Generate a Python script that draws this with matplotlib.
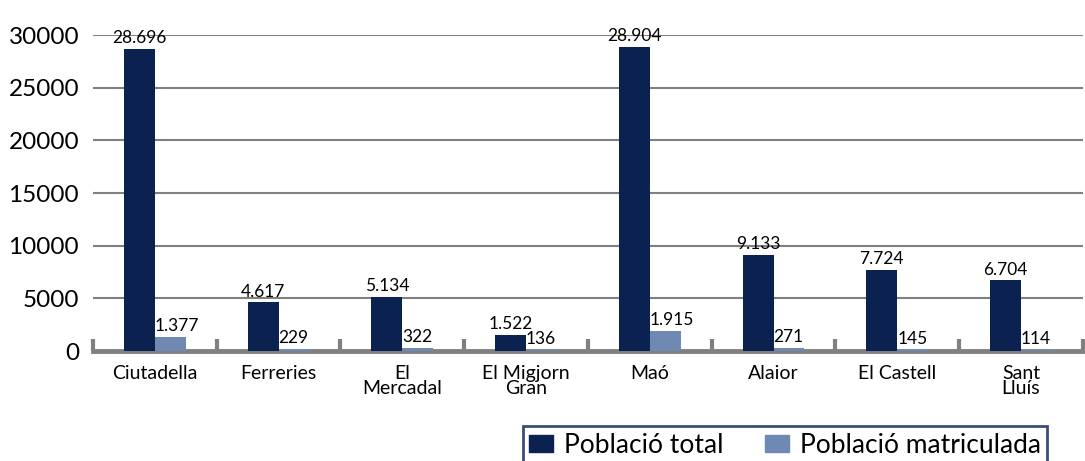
import matplotlib.pyplot as plt
from matplotlib.patches import Patch

municipis = ["Ciutadella", "Ferreries", "El\nMercadal", "El Migjorn\nGran", "Maó",
             "Alaior", "El Castell", "Sant\nLluís"]
poblacio_total = [28696, 4617, 5134, 1522, 28904, 9133, 7724, 6704]
poblacio_matriculada = [1377, 229, 322, 136, 1915, 271, 145, 114]
yticks = [0, 5000, 10000, 15000, 20000, 25000, 30000]

DARK = "#0b2150"
LIGHT = "#7089b3"
GRID = "#808080"


def fmt(v):
    return f"{v:,}".replace(",", ".")


plt.rcParams["font.family"] = ["Lato", "DejaVu Sans"]

fig = plt.figure(figsize=(10.85, 4.61), dpi=100)
ax = fig.add_axes([0.0857, 0.2386, 0.9123, 0.6854])

n = len(municipis)
w = 0.25
centers = [i + 0.5 for i in range(n)]
x_dark = [c - w / 2 for c in centers]
x_light = [c + w / 2 for c in centers]

ax.bar(x_dark, poblacio_total, width=w, color=DARK, zorder=5)
ax.bar(x_light, poblacio_matriculada, width=w, color=LIGHT, zorder=5)

for x, v in zip(x_dark, poblacio_total):
    ax.annotate(fmt(v), (x, v), xytext=(0, 2), textcoords="offset points",
                ha="center", va="bottom", fontsize=12.5, annotation_clip=False)
for x, v in zip(x_light, poblacio_matriculada):
    ax.annotate(fmt(v), (x - w / 2, v), xytext=(0, 2), textcoords="offset points",
                ha="left", va="bottom", fontsize=12.5, annotation_clip=False)

ax.set_xlim(0, n)
ax.set_ylim(0, 30000)
ax.set_yticks(yticks)
ax.set_yticklabels([str(t) for t in yticks], fontsize=17.5)
ax.tick_params(axis="y", length=0, pad=10)
ax.yaxis.grid(True, color=GRID, linewidth=1.5, zorder=0)

ax.set_xticks(range(n + 1))
ax.set_xticklabels([])
ax.tick_params(axis="x", which="major", direction="in", length=9, width=3, color=GRID)
ax.set_xticks(centers, minor=True)
ax.set_xticklabels(municipis, minor=True, fontsize=14, linespacing=0.9)
ax.tick_params(axis="x", which="minor", length=0, pad=10)

for s in ["top", "right", "left"]:
    ax.spines[s].set_visible(False)
ax.spines["bottom"].set_color(GRID)
ax.spines["bottom"].set_linewidth(3.5)
ax.spines["bottom"].set_zorder(4)

handles = [Patch(color=DARK, label="Població total"),
           Patch(color=LIGHT, label="Població matriculada")]
leg = fig.legend(handles=handles, loc="lower left", bbox_to_anchor=(0.4696, -0.036),
                 ncol=2, fontsize=19, frameon=True, fancybox=False,
                 handlelength=0.9, handleheight=0.6, handletextpad=0.4,
                 columnspacing=1.6, borderpad=0.25)
leg.get_frame().set_edgecolor(DARK)
leg.get_frame().set_linewidth(2)

fig.savefig("out.png", dpi=100)
